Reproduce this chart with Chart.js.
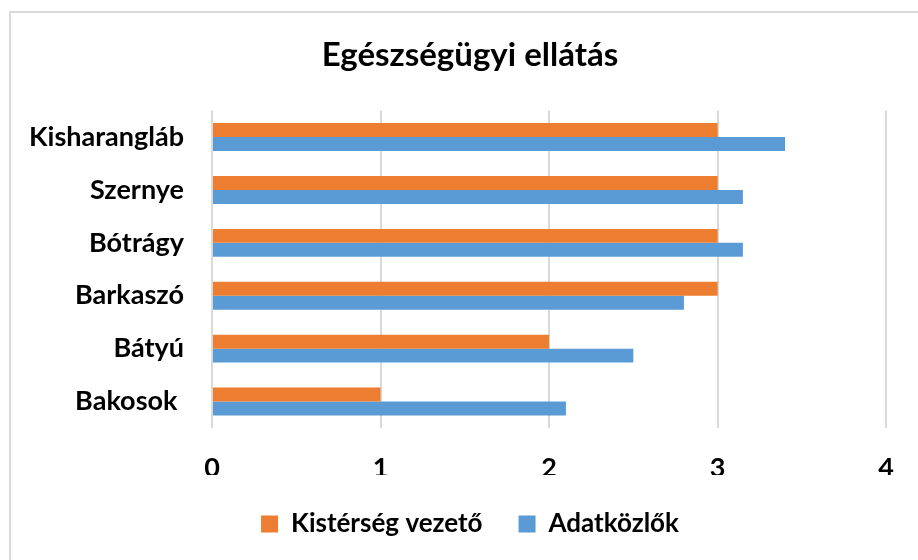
<!DOCTYPE html>
<html>
<head>
<meta charset="utf-8">
<script src="https://cdn.jsdelivr.net/npm/chart.js@4.4.1/dist/chart.umd.min.js"></script>
<style>
  html, body { margin: 0; padding: 0; background: #fff; overflow: hidden; }
  #frame {
    position: absolute; left: 9px; top: 11px;
    width: 1000px; height: 700px;
    border: 2px solid #d9d9d9; box-sizing: border-box;
  }
  #wrap { position: absolute; left: 0; top: 0; width: 918px; height: 560px; }
</style>
</head>
<body>
<div id="frame"></div>
<div id="wrap"><canvas id="c" width="918" height="560"></canvas></div>
<script>
// Egészségügyi ellátás — horizontal grouped bars
const title = 'Egészségügyi ellátás';
const categories = ['Kisharangláb', 'Szernye', 'Bótrágy', 'Barkaszó', 'Bátyú', 'Bakosok '];
const seriesNames = ['Kistérség vezető', 'Adatközlők'];
const vezeto = [3, 3, 3, 3, 2, 1];
const adatkozlok = [3.4, 3.15, 3.15, 2.8, 2.5, 2.1];
const xTicks = [0, 1, 2, 3, 4];

const COL = {
  orange: '#ED7D31',
  blue:   '#5B9BD5',
  grid:   '#d9d9d9',
  text:   '#000000',
};
const FONT = "Lato, 'Open Sans', sans-serif";

// long category labels run past the narrow y-axis box; don't clip them
const noLabelClip = {
  id: 'noLabelClip',
  beforeDraw(chart) { chart.scales.y._computeLabelArea = () => undefined; },
};

new Chart(document.getElementById('c'), {
  type: 'bar',
  data: {
    labels: categories,
    datasets: [
      { label: seriesNames[0], data: vezeto, backgroundColor: COL.orange },
      { label: seriesNames[1], data: adatkozlok, backgroundColor: COL.blue },
    ],
  },
  plugins: [noLabelClip],
  options: {
    indexAxis: 'y',
    responsive: false,
    animation: false,
    devicePixelRatio: 1,
    datasets: { bar: { barPercentage: 1, categoryPercentage: 0.527 } },
    layout: { padding: { left: 52, right: 30, top: 0, bottom: 13 } },
    plugins: {
      title: {
        display: true,
        text: title,
        color: COL.text,
        font: { family: FONT, size: 33, weight: 'bold' },
        padding: { top: 36, bottom: 35 },
      },
      legend: {
        position: 'bottom',
        labels: {
          color: COL.text,
          font: { family: FONT, size: 26, weight: 'bold' },
          boxWidth: 17,
          boxHeight: 17,
          padding: 36,
        },
      },
      tooltip: { enabled: false },
    },
    scales: {
      x: {
        min: 0,
        max: 4,
        afterBuildTicks: (s) => { s.ticks = xTicks.map(v => ({ value: v })); },
        grid: { color: COL.grid, lineWidth: 2, drawTicks: false },
        border: { display: false },
        ticks: {
          color: COL.text,
          padding: 24,
          font: { family: FONT, size: 27, weight: 'bold' },
        },
        afterFit: (s) => { s.height = 47; },
      },
      y: {
        grid: { display: false, drawTicks: false },
        border: { display: false },
        ticks: {
          color: COL.text,
          padding: 28,
          font: { family: FONT, size: 27, weight: 'bold' },
        },
        afterFit: (s) => { s.width = 212 - 52; },
      },
    },
  },
});
</script>
</body>
</html>
